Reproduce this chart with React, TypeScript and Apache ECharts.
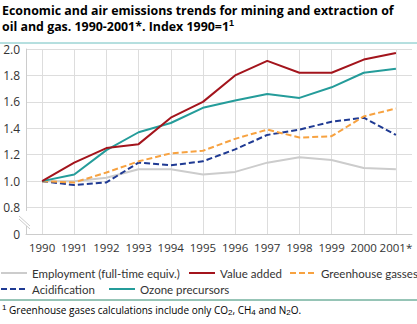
import React, { useEffect, useRef } from "react";
import * as echarts from "echarts";

const years = ["1990", "1991", "1992", "1993", "1994", "1995", "1996", "1997", "1998", "1999", "2000", "2001*"];
const employment = [1.0, 1.0, 1.025, 1.09, 1.09, 1.05, 1.07, 1.14, 1.18, 1.16, 1.1, 1.09];
const valueAdded = [1.0, 1.14, 1.25, 1.28, 1.48, 1.6, 1.8, 1.91, 1.82, 1.82, 1.92, 1.97];
const greenhouse = [1.0, 0.99, 1.065, 1.15, 1.21, 1.23, 1.32, 1.39, 1.33, 1.34, 1.49, 1.55];
const acidification = [1.0, 0.97, 0.99, 1.14, 1.12, 1.15, 1.24, 1.35, 1.39, 1.45, 1.48, 1.35];
const ozone = [1.0, 1.05, 1.235, 1.37, 1.44, 1.555, 1.61, 1.66, 1.63, 1.71, 1.82, 1.85];
const seriesNames = ["Employment (full-time equiv.)", "Value added", "Greenhouse gasses", "Acidification", "Ozone precursors"];

const FONT = "'Open Sans', 'Noto Sans', sans-serif";
const LFONT = "Lato, 'Open Sans', sans-serif";

export default function App() {
  const ref = useRef<HTMLDivElement>(null);
  useEffect(() => {
    if (!ref.current) return;
    const chart = echarts.init(ref.current, undefined, { renderer: "svg" });
    const mk = (name: string, data: number[], color: string, dashed: boolean, z: number) => ({
      name,
      type: "line",
      data,
      symbol: "none",
      z,
      lineStyle: { color, width: 2, type: dashed ? [6, 3] : "solid" },
      itemStyle: { color },
    });
    const legendPos = [
      [0, 267],
      [188, 267],
      [289, 267],
      [0, 283],
      [108, 283],
    ];
    const legends = seriesNames.map((n, i) => ({
      left: legendPos[i][0],
      top: legendPos[i][1],
      padding: 0,
      itemWidth: 26,
      itemHeight: 2,
      itemStyle: { opacity: 0 },
      textStyle: { color: "#333", fontSize: 11.5, fontFamily: LFONT },
      data: [n],
    }));
    chart.setOption({
      animation: false,
      textStyle: { fontFamily: FONT },
      grid: { left: 26, right: 5, top: 49, bottom: 90, containLabel: false },
      xAxis: {
        type: "category",
        data: years,
        boundaryGap: true,
        axisLine: { lineStyle: { color: "#cccccc", width: 1 } },
        axisTick: { show: false },
        axisLabel: { color: "#333", fontSize: 11.5, margin: 7, interval: 0, fontFamily: FONT },
        splitLine: { show: true, interval: 0, alignWithLabel: true, lineStyle: { color: "#dddddd", width: 1 } },
      },
      yAxis: {
        type: "value",
        min: 0.6,
        max: 2.0,
        interval: 0.2,
        axisLine: { show: true, lineStyle: { color: "#cccccc", width: 1 } },
        axisTick: { show: false },
        axisLabel: {
          color: "#333",
          fontSize: 12,
          margin: 6,
          fontFamily: FONT,
          formatter: (v: number) => (Math.abs(v - 0.6) < 1e-6 ? "0" : v.toFixed(1)),
        },
        splitLine: { show: true, lineStyle: { color: "#dddddd", width: 1 } },
      },
      legend: legends,
      graphic: [
        {
          type: "text",
          left: 2,
          top: 2,
          style: {
            text: "Economic and air emissions trends for mining and extraction of\noil and gas. 1990-2001*. Index 1990=1{sup|1}",
            font: `bold 12.4px ${FONT}`,
            fill: "#000",
            lineHeight: 16,
            rich: { sup: { fontSize: 9, fontWeight: "bold", lineHeight: 16, padding: [0, 0, 7, 0] } },
          },
        },
        { type: "line", shape: { x1: 0, y1: 43, x2: 417, y2: 43 }, style: { stroke: "#6cc0c0", lineWidth: 1 } },
        { type: "line", shape: { x1: 0, y1: 300, x2: 417, y2: 300 }, style: { stroke: "#2f8a6f", lineWidth: 1 } },
        {
          type: "text",
          left: 2,
          top: 303,
          style: {
            text: "{s|1} Greenhouse gases calculations include only CO{b|2}, CH{b|4} and N{b|2}O.",
            font: `10px ${FONT}`,
            fill: "#000",
            rich: {
              s: { fontSize: 8, padding: [0, 0, 6, 0] },
              b: { fontSize: 8, padding: [5, 0, 0, 0] },
            },
          },
        },
        { type: "rect", shape: { x: 22, y: 211, width: 8, height: 15 }, style: { fill: "#fff" }, z: 100 },
        { type: "line", shape: { x1: 19, y1: 216, x2: 30, y2: 226 }, style: { stroke: "#cccccc", lineWidth: 1 }, z: 101 },
        { type: "line", shape: { x1: 19, y1: 219, x2: 30, y2: 229 }, style: { stroke: "#cccccc", lineWidth: 1 }, z: 101 },
      ],
      series: [
        mk(seriesNames[0], employment, "#cccccc", false, 2),
        mk(seriesNames[1], valueAdded, "#a3141c", false, 6),
        mk(seriesNames[2], greenhouse, "#f7a240", true, 4),
        mk(seriesNames[3], acidification, "#1f3a93", true, 3),
        mk(seriesNames[4], ozone, "#249c9a", false, 5),
      ],
    });
    return () => chart.dispose();
  }, []);
  return <div ref={ref} style={{ width: 417, height: 324, position: "absolute", left: 0, top: 0 }} />;
}
